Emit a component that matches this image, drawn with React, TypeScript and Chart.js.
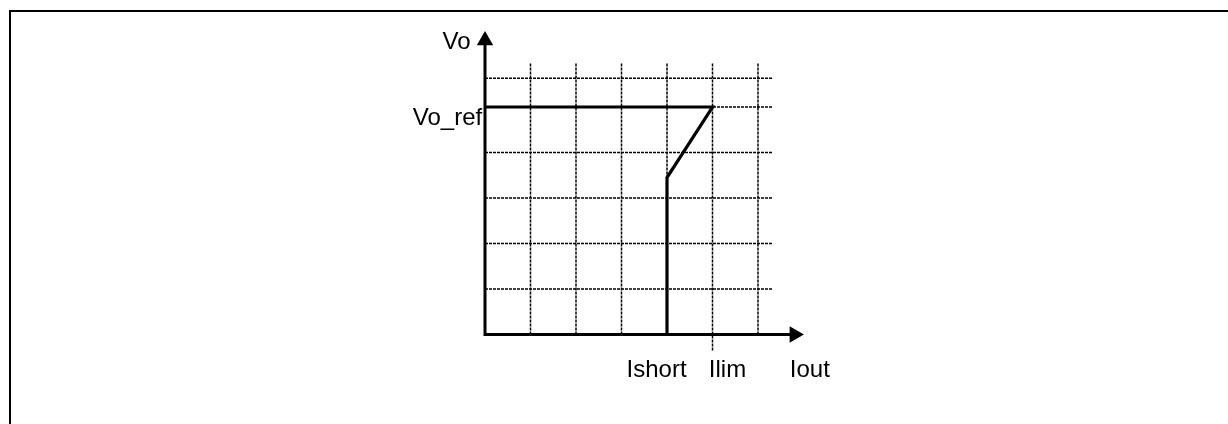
import React, { useEffect, useRef } from "react";
import { Chart, registerables } from "chart.js";

Chart.register(...registerables);

// Grid positions (in axis units)
const gridXs = [1, 2, 3, 4, 5, 6];
const gridYs = [1, 2, 3, 4, 5, 5.63];
const gridTopY = 5.97;
const gridRightX = 6.33;

// Output characteristic (Iout, Vo)
const curveX = [0, 5, 4, 4];
const curveY = [5, 5, 3.45, 0];

// Axes
const axisYTop = 6.4;
const axisXEnd = 6.8;
const arrowYPos = 6.46;
const arrowXPos = 6.8;

// Ilim marker below x-axis
const ilimX = 5;
const ilimBottom = -0.35;

// Labels
const labelTexts = ["Vo", "Vo_ref", "Ishort", "Ilim", "Iout"];
const labelXs = [-0.626, -0.824, 3.77, 5.33, 7.14];
const labelYs = [6.275, 4.6, -0.934, -0.934, -0.934];

const UNIT = 45.5;
const X0 = 485;
const Y0 = 334.5;
const XMIN = -2;
const XMAX = 8;
const YMIN = -1.5;
const YMAX = 7;

export default function App() {
  const ref = useRef<HTMLCanvasElement | null>(null);

  useEffect(() => {
    const canvas = ref.current;
    if (!canvas) return;

    const gridData: any[] = [];
    gridXs.forEach((gx) => {
      gridData.push({ x: gx, y: 0 }, { x: gx, y: gridTopY }, { x: gx, y: null });
    });
    gridYs.forEach((gy) => {
      gridData.push({ x: 0, y: gy }, { x: gridRightX, y: gy }, { x: gridRightX, y: null });
    });
    gridData.push({ x: ilimX, y: ilimBottom }, { x: ilimX, y: 0 });

    const curveData = curveX.map((x, i) => ({ x, y: curveY[i] }));

    const labelPlugin = {
      id: "labels",
      afterDatasetsDraw(chart: any) {
        const { ctx, scales } = chart;
        ctx.save();
        ctx.fillStyle = "#000";
        ctx.font = '24px "Liberation Sans", Arial, sans-serif';
        ctx.textAlign = "center";
        ctx.textBaseline = "alphabetic";
        labelTexts.forEach((t, i) => {
          ctx.fillText(
            t,
            scales.x.getPixelForValue(labelXs[i]),
            scales.y.getPixelForValue(labelYs[i])
          );
        });
        ctx.restore();
      },
    };

    const chart = new Chart(canvas, {
      type: "scatter",
      data: {
        datasets: [
          {
            label: "arrows",
            data: [
              { x: 0, y: arrowYPos },
              { x: arrowXPos, y: 0 },
            ],
            showLine: false,
            pointStyle: "triangle",
            pointRadius: 9.5,
            pointRotation: [0, 90] as any,
            pointBackgroundColor: "#000",
            pointBorderWidth: 0,
            order: 0,
          } as any,
          {
            label: "curve",
            data: curveData,
            showLine: true,
            borderColor: "#000",
            borderWidth: 3.2,
            borderJoinStyle: "miter",
            pointRadius: 0,
            order: 1,
          } as any,
          {
            label: "axes",
            data: [
              { x: 0, y: axisYTop },
              { x: 0, y: 0 },
              { x: axisXEnd, y: 0 },
            ],
            showLine: true,
            borderColor: "#000",
            borderWidth: 3,
            borderJoinStyle: "miter",
            pointRadius: 0,
            order: 2,
          } as any,
          {
            label: "grid",
            data: gridData,
            showLine: true,
            spanGaps: false,
            borderColor: "#000",
            borderWidth: 1.5,
            borderDash: [3, 1],
            pointRadius: 0,
            order: 3,
          } as any,
        ],
      },
      options: {
        animation: false,
        responsive: false,
        maintainAspectRatio: false,
        layout: {
          padding: {
            left: X0 + XMIN * UNIT,
            right: 1228 - (X0 + XMAX * UNIT),
            top: Y0 - YMAX * UNIT,
            bottom: 424 - (Y0 - YMIN * UNIT),
          },
        },
        scales: {
          x: { type: "linear", min: XMIN, max: XMAX, display: false },
          y: { type: "linear", min: YMIN, max: YMAX, display: false },
        },
        plugins: {
          legend: { display: false },
          tooltip: { enabled: false },
        },
      },
      plugins: [labelPlugin],
    });

    return () => chart.destroy();
  }, []);

  return (
    <div style={{ position: "fixed", left: 0, top: 0, width: 1228, height: 424, background: "#fff" }}>
      <div
        style={{
          position: "absolute",
          left: 9,
          top: 10,
          right: 0,
          bottom: 0,
          borderTop: "2px solid #000",
          borderLeft: "2px solid #000",
        }}
      />
      <canvas
        ref={ref}
        width={1228}
        height={424}
        style={{ position: "absolute", left: 0, top: 0, width: 1228, height: 424 }}
      />
    </div>
  );
}
